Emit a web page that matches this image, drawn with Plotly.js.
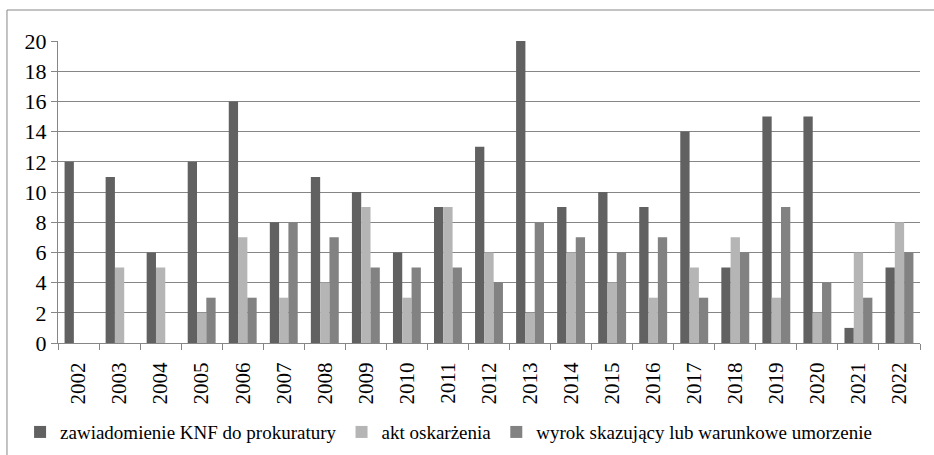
<!DOCTYPE html>
<html>
<head>
<meta charset="utf-8">
<script src="https://cdn.plot.ly/plotly-3.0.1.min.js"></script>
<style>
html,body{margin:0;padding:0;background:#fff;}
#chart{width:934px;height:455px;}
</style>
</head>
<body>
<div id="chart"></div>
<script>
const years = ['2002','2003','2004','2005','2006','2007','2008','2009','2010','2011','2012','2013','2014','2015','2016','2017','2018','2019','2020','2021','2022'];
const zawiadomienie = [12,11,6,12,16,8,11,10,6,9,13,20,9,10,9,14,5,15,15,1,5];
const aktOskarzenia = [0,5,5,2,7,3,4,9,3,9,6,2,6,4,3,5,7,3,2,6,8];
const wyrok = [0,0,0,3,3,8,7,5,5,5,4,8,7,6,7,3,6,9,4,3,6];
const seriesNames = ['zawiadomienie KNF do prokuratury','akt oskarżenia','wyrok skazujący lub warunkowe umorzenie'];
const seriesColors = ['#616161','#b5b5b5','#828282'];

const fontFam = 'Liberation Serif';
const data = [zawiadomienie, aktOskarzenia, wyrok].map((vals, i) => ({
  type: 'bar',
  x: years,
  y: vals,
  name: seriesNames[i],
  marker: {color: seriesColors[i], line: {width: 0}}
}));

const layout = {
  width: 934, height: 455,
  margin: {l: 58, r: 14, t: 41, b: 112, autoexpand: false},
  paper_bgcolor: '#ffffff', plot_bgcolor: '#ffffff',
  barmode: 'group', bargap: 0.32, bargroupgap: 0,
  font: {family: fontFam, color: '#000000', size: 20},
  xaxis: {
    type: 'category', tickangle: -90, tickson: 'boundaries', automargin: false,
    ticks: 'outside', ticklen: 6, tickcolor: '#868686', ticklabelstandoff: 10,
    showline: true, linecolor: '#868686', linewidth: 1,
    showgrid: false, tickfont: {family: fontFam, size: 21, color: '#000000'}
  },
  yaxis: {
    range: [0, 20], dtick: 2, tick0: 0, automargin: false,
    ticks: 'outside', ticklen: 6, tickcolor: '#868686',
    showline: true, linecolor: '#868686', linewidth: 1,
    showgrid: true, gridcolor: '#868686', gridwidth: 1,
    zeroline: false, tickfont: {family: fontFam, size: 22, color: '#000000'}
  },
  showlegend: true,
  legend: {
    orientation: 'h', x: -0.044, xanchor: 'left', y: -0.295, yanchor: 'middle',
    font: {family: fontFam, size: 19, color: '#000000'}, traceorder: 'normal',
    bgcolor: 'rgba(0,0,0,0)'
  },
  shapes: [
    {type: 'line', xref: 'paper', yref: 'paper', x0: -0.0592, x1: -0.0592, y0: 1.1026, y1: -0.4, line: {color: '#868686', width: 1}},
    {type: 'line', xref: 'paper', yref: 'paper', x0: -0.0592, x1: 1.03, y0: 1.1026, y1: 1.1026, line: {color: '#868686', width: 1}}
  ]
};

Plotly.newPlot('chart', data, layout, {staticPlot: true, displayModeBar: false});
</script>
</body>
</html>
